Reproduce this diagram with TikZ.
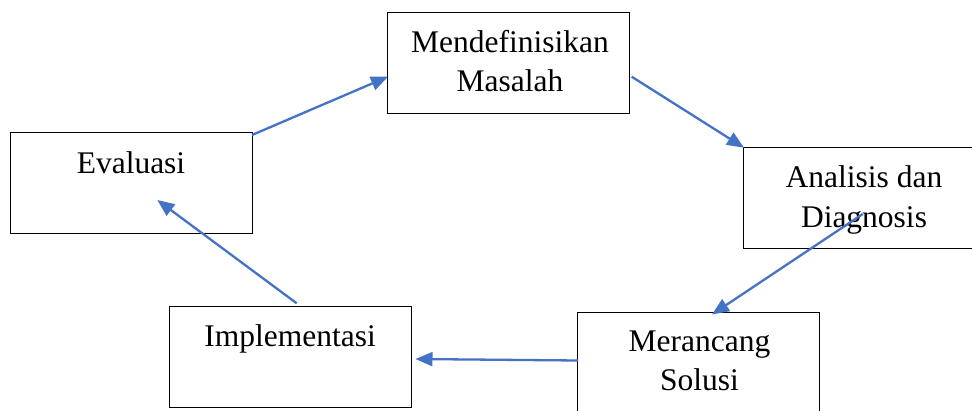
\documentclass[tikz,border=0pt]{standalone}
\usepackage{fontspec}
\setmainfont{Liberation Serif}
\usetikzlibrary{arrows.meta}
\definecolor{arrowblue}{HTML}{4472C4}
\begin{document}
\begin{tikzpicture}[x=1pt,y=-1pt,
  box/.style={draw=black,line width=0.9pt,rectangle,minimum width=242pt,minimum height=101pt,inner sep=0pt},
  lbl/.style={font=\fontsize{31.5}{39.5}\selectfont,align=center,anchor=base,inner sep=0pt},
  flow/.style={draw=arrowblue,line width=2.3pt,-{Triangle[length=17pt,width=14pt]}}]
\useasboundingbox (0,0) rectangle (972,410);
\clip (0,0) rectangle (972,410);
\fill[white] (0,0) rectangle (972,410);
% boxes
\node[box] (def) at (508.5,63) {};
\node[box] (ana) at (864,197.5) {};
\node[box] (eval) at (131,183) {};
\node[box] (impl) at (290,357) {};
\node[box] (mer) at (698.5,362.5) {};
% texts (base anchor = baseline of the last line)
\node[lbl] (tdef) at (510,91.5) {Mendefinisikan\\Masalah};
\node[lbl] (tana) at (864,227) {Analisis dan\\Diagnosis};
\node[lbl] (teval) at (131,173.3) {Evaluasi};
\node[lbl] (timpl) at (290,346.7) {Implementasi};
\node[lbl] (tmer) at (699.5,390.5) {Merancang\\Solusi};
% connector ends
\coordinate (e1s) at (252,135);
\coordinate (e1t) at (388,76.7);
\coordinate (e2s) at (631.7,76.7);
\coordinate (e2t) at (744,147.7);
\coordinate (e3s) at (862.7,214);
\coordinate (e3t) at (712,314.5);
\coordinate (e4s) at (578,360.5);
\coordinate (e4t) at (415.5,359);
\coordinate (e5s) at (296.7,303.3);
\coordinate (e5t) at (157.3,200);
\draw[flow] (e1s) -- (e1t);
\draw[flow] (e2s) -- (e2t);
\draw[flow] (e3s) -- (e3t);
\draw[flow] (e4s) -- (e4t);
\draw[flow] (e5s) -- (e5t);
\end{tikzpicture}
\end{document}
